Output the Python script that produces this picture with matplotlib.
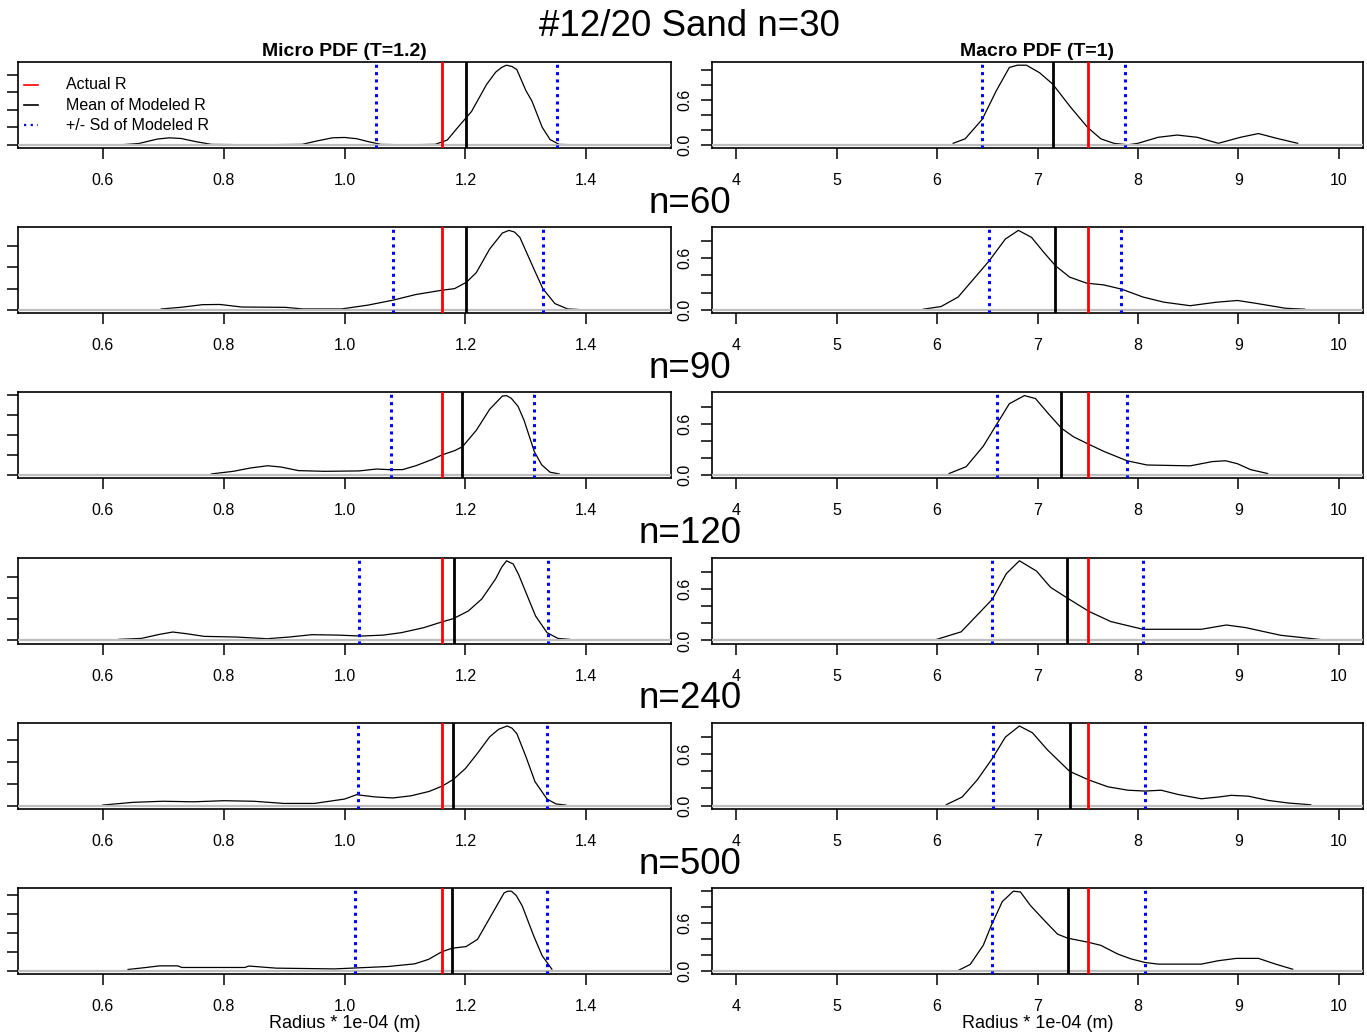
import matplotlib
matplotlib.use('Agg')
import matplotlib.pyplot as plt

plt.rcParams['font.family'] = ['Liberation Sans', 'DejaVu Sans']

# ---------------- data ----------------
sample_sizes = [30, 60, 90, 120, 240, 500]
actual_micro = 1.162
actual_macro = 7.50

micro_mean = [1.2015, 1.2017, 1.195, 1.181, 1.179, 1.178]
micro_sd_lo = [1.052, 1.0795, 1.0766, 1.0237, 1.0216, 1.018]
micro_sd_hi = [1.351, 1.3275, 1.314, 1.336, 1.335, 1.335]
macro_mean = [7.157, 7.176, 7.236, 7.293, 7.32, 7.304]
macro_sd_lo = [6.45, 6.52, 6.60, 6.547, 6.557, 6.543]
macro_sd_hi = [7.874, 7.836, 7.888, 8.05, 8.07, 8.074]

micro_x_30 = [0.63, 0.66, 0.69, 0.71, 0.73, 0.755, 0.78, 0.85, 0.93, 0.955, 0.98, 1.00, 1.02, 1.04, 1.06, 1.10,
              1.15, 1.17, 1.19, 1.21, 1.235, 1.25, 1.26, 1.268, 1.277, 1.285, 1.30, 1.31, 1.327, 1.34, 1.355, 1.38]
micro_d_30 = [0.0, 0.15, 0.65, 0.8, 0.72, 0.35, 0.05, 0.0, 0.05, 0.45, 0.8, 0.84, 0.7, 0.35, 0.05, 0.0,
              0.05, 0.55, 2.2, 3.8, 6.9, 8.3, 8.85, 9.1, 8.95, 8.6, 6.2, 5.0, 2.0, 0.6, 0.05, 0.0]
macro_x_30 = [6.16, 6.28, 6.45, 6.59, 6.72, 6.80, 6.89, 7.02, 7.15, 7.33, 7.50, 7.63, 7.76, 7.9, 8.0, 8.2,
              8.39, 8.59, 8.80, 9.02, 9.2, 9.37, 9.59]
macro_d_30 = [0.02, 0.08, 0.34, 0.72, 1.03, 1.06, 1.06, 0.96, 0.81, 0.50, 0.23, 0.08, 0.02, 0.0, 0.02, 0.10,
              0.13, 0.10, 0.02, 0.10, 0.15, 0.09, 0.02]

micro_x_60 = [0.697, 0.729, 0.765, 0.794, 0.83, 0.902, 0.931, 0.995, 1.039, 1.08, 1.118, 1.161, 1.182, 1.2017,
              1.218, 1.24, 1.261, 1.272, 1.281, 1.29, 1.312, 1.328, 1.348, 1.369, 1.387]
micro_d_60 = [0.1, 0.25, 0.5, 0.52, 0.28, 0.25, 0.1, 0.1, 0.46, 0.92, 1.45, 1.85, 2.0, 2.6,
              3.5, 5.7, 7.2, 7.45, 7.3, 6.8, 4.0, 2.0, 0.6, 0.1, 0.05]
macro_x_60 = [5.865, 6.04, 6.21, 6.38, 6.52, 6.68, 6.81, 6.94, 7.06, 7.18, 7.32, 7.49, 7.66, 7.84, 8.05, 8.26,
              8.52, 8.78, 8.99, 9.16, 9.47, 9.66]
macro_d_60 = [0.01, 0.04, 0.15, 0.38, 0.57, 0.82, 0.92, 0.84, 0.67, 0.51, 0.38, 0.31, 0.29, 0.24, 0.15, 0.09,
              0.05, 0.09, 0.11, 0.08, 0.02, 0.01]

micro_x_90 = [0.78, 0.816, 0.844, 0.873, 0.895, 0.924, 0.967, 1.024, 1.053, 1.074, 1.096, 1.118, 1.146, 1.161,
              1.182, 1.195, 1.218, 1.24, 1.261, 1.268, 1.276, 1.287, 1.297, 1.314, 1.326, 1.34, 1.355]
micro_d_90 = [0.13, 0.39, 0.72, 0.95, 0.82, 0.46, 0.39, 0.43, 0.62, 0.56, 0.56, 0.95, 1.6, 2.03,
              2.46, 2.85, 4.5, 6.6, 7.93, 7.98, 7.7, 6.9, 5.5, 2.36, 1.05, 0.3, 0.13]
macro_x_90 = [6.12, 6.29, 6.46, 6.60, 6.72, 6.87, 6.98, 7.11, 7.24, 7.36, 7.49, 7.66, 7.89, 8.09, 8.52, 8.74,
              8.87, 8.99, 9.12, 9.29]
macro_d_90 = [0.02, 0.10, 0.34, 0.61, 0.84, 0.935, 0.90, 0.72, 0.55, 0.45, 0.375, 0.28, 0.17, 0.12, 0.11, 0.16,
              0.17, 0.135, 0.066, 0.02]

micro_x_120 = [0.627, 0.664, 0.694, 0.716, 0.739, 0.768, 0.82, 0.872, 0.909, 0.946, 0.99, 1.027, 1.064, 1.094,
               1.131, 1.161, 1.18, 1.205, 1.227, 1.25, 1.26, 1.268, 1.279, 1.288, 1.298, 1.316, 1.335, 1.353, 1.372]
micro_d_120 = [0.1, 0.19, 0.57, 0.79, 0.63, 0.38, 0.32, 0.16, 0.32, 0.54, 0.5, 0.41, 0.5, 0.73,
               1.2, 1.74, 2.05, 2.78, 3.9, 5.8, 6.9, 7.5, 7.2, 6.2, 4.8, 2.3, 0.73, 0.19, 0.1]
macro_x_120 = [5.99, 6.24, 6.55, 6.69, 6.82, 6.99, 7.13, 7.29, 7.51, 7.73, 8.05, 8.63, 8.88, 9.07, 9.42, 9.82]
macro_d_120 = [0.01, 0.1, 0.48, 0.78, 0.93, 0.81, 0.62, 0.5, 0.34, 0.22, 0.13, 0.13, 0.18, 0.15, 0.06, 0.01]

micro_x_240 = [0.60, 0.65, 0.70, 0.75, 0.80, 0.85, 0.90, 0.95, 1.00, 1.02, 1.05, 1.08, 1.11, 1.14, 1.162, 1.18,
               1.20, 1.22, 1.24, 1.255, 1.269, 1.277, 1.285, 1.30, 1.315, 1.335, 1.35, 1.366]
micro_d_240 = [0.05, 0.3, 0.4, 0.35, 0.45, 0.4, 0.2, 0.2, 0.6, 1.0, 0.8, 0.7, 0.9, 1.3, 1.8, 2.4,
               3.4, 4.8, 6.3, 7.0, 7.3, 7.1, 6.6, 4.5, 2.2, 0.6, 0.15, 0.05]
macro_x_240 = [6.09, 6.25, 6.4, 6.55, 6.68, 6.82, 6.95, 7.1, 7.32, 7.51, 7.7, 7.9, 8.07, 8.23, 8.4, 8.63,
               8.8, 8.93, 9.1, 9.3, 9.5, 9.72]
macro_d_240 = [0.01, 0.1, 0.3, 0.55, 0.8, 0.93, 0.85, 0.65, 0.4, 0.3, 0.22, 0.18, 0.17, 0.18, 0.13, 0.08,
               0.1, 0.12, 0.11, 0.06, 0.03, 0.01]

micro_x_500 = [0.642, 0.672, 0.694, 0.724, 0.731, 0.835, 0.842, 0.887, 0.983, 1.072, 1.116, 1.139, 1.161, 1.178,
               1.201, 1.22, 1.242, 1.264, 1.27, 1.276, 1.284, 1.294, 1.313, 1.327, 1.343]
micro_d_500 = [0.14, 0.35, 0.52, 0.52, 0.35, 0.35, 0.5, 0.28, 0.2, 0.45, 0.73, 1.2, 2.0, 2.37,
               2.54, 3.3, 5.74, 8.17, 8.35, 8.35, 7.9, 6.8, 3.65, 1.57, 0.17]
macro_x_500 = [6.22, 6.33, 6.46, 6.54, 6.65, 6.76, 6.83, 6.93, 7.07, 7.2, 7.3, 7.5, 7.63, 7.8, 7.93, 8.07,
               8.2, 8.63, 8.8, 8.98, 9.2, 9.37, 9.54]
macro_d_500 = [0.01, 0.08, 0.32, 0.57, 0.87, 1.0, 0.99, 0.82, 0.63, 0.46, 0.41, 0.36, 0.32, 0.21, 0.15, 0.105,
               0.084, 0.084, 0.127, 0.156, 0.156, 0.084, 0.02]

micro_curves = [(micro_x_30, micro_d_30), (micro_x_60, micro_d_60), (micro_x_90, micro_d_90),
                (micro_x_120, micro_d_120), (micro_x_240, micro_d_240), (micro_x_500, micro_d_500)]
macro_curves = [(macro_x_30, macro_d_30), (macro_x_60, macro_d_60), (macro_x_90, macro_d_90),
                (macro_x_120, macro_d_120), (macro_x_240, macro_d_240), (macro_x_500, macro_d_500)]

micro_xticks = [0.6, 0.8, 1.0, 1.2, 1.4]
macro_xticks = [4, 5, 6, 7, 8, 9, 10]
micro_xlim = (0.5, 1.5)
macro_xlim = (4, 10)
micro_ystep = 2.0
macro_ystep = 0.2
macro_ylabels = {0.0: '0.0', 0.6: '0.6'}

legend_labels = ['Actual R', 'Mean of Modeled R', '+/- Sd of Modeled R']

# ---------------- figure ----------------
W, H = 1367, 1036
fig = plt.figure(figsize=(W / 100, H / 100), dpi=100)

def rect(x0, x1, ytop, ybot):
    return [x0 / W, 1 - ybot / H, (x1 - x0) / W, (ybot - ytop) / H]

TICK_FS = 11.5
DOT = (0, (1.0, 1.4))


def r_lim(lo, hi):
    pad = 0.04 * (hi - lo)
    return lo - pad, hi + pad


def draw_panel(ax, xs, ds, xlim, xticks, ystep, mean, lo, hi, actual, ylabels):
    ax.plot(xs, ds, color='black', lw=0.9, zorder=2, solid_joinstyle='round')
    ax.axhline(0, color='#bebebe', lw=1.6, zorder=3)
    ax.axvline(lo, color='#0000ff', lw=2.2, ls=DOT, zorder=4)
    ax.axvline(hi, color='#0000ff', lw=2.2, ls=DOT, zorder=4)
    ax.axvline(mean, color='black', lw=2.0, zorder=4)
    ax.axvline(actual, color='#ff0000', lw=2.0, zorder=4)
    ax.set_xlim(*r_lim(*xlim))
    pk = max(ds)
    ax.set_ylim(*r_lim(0, pk))
    ax.set_xticks(xticks)
    ax.set_xticklabels([('%g' % t) if isinstance(t, int) else ('%.1f' % t) for t in xticks])
    n = int(pk * 1.04 / ystep + 1e-9)
    yt = [round(i * ystep, 6) for i in range(n + 1)]
    ax.set_yticks(yt)
    if ylabels is None:
        ax.set_yticklabels([''] * len(yt))
    else:
        ax.set_yticklabels([ylabels.get(round(t, 6), '') for t in yt], rotation=90, va='center')
    ax.tick_params(axis='both', direction='out', length=8, width=1.1, labelsize=TICK_FS, pad=10)
    ax.tick_params(axis='y', pad=6)
    for s in ax.spines.values():
        s.set_linewidth(1.2)


row_top0 = 62
row_step = 165.2
ax_h = 86

for i, n in enumerate(sample_sizes):
    top = row_top0 + i * row_step
    axl = fig.add_axes(rect(18, 671, top, top + ax_h))
    axr = fig.add_axes(rect(712, 1363, top, top + ax_h))
    mx, md = micro_curves[i]
    draw_panel(axl, mx, md, micro_xlim, micro_xticks, micro_ystep,
               micro_mean[i], micro_sd_lo[i], micro_sd_hi[i], actual_micro, None)
    Mx, Md = macro_curves[i]
    draw_panel(axr, Mx, Md, macro_xlim, macro_xticks, macro_ystep,
               macro_mean[i], macro_sd_lo[i], macro_sd_hi[i], actual_macro, macro_ylabels)

    if i == 0:
        fig.text(689 / W, 1 - 26 / H, '#12/20 Sand n=%d' % n, ha='center', va='center', fontsize=26.5)
        axl.set_title('Micro PDF (T=1.2)', fontsize=14, fontweight='bold', pad=4)
        axr.set_title('Macro PDF (T=1)', fontsize=14, fontweight='bold', pad=4)
        # legend (manual, no frame)
        styles = [dict(color='#ff0000', lw=1.2), dict(color='black', lw=1.2),
                  dict(color='#0000ff', lw=1.6, ls=(0, (1.0, 2.0)))]
        ys = [0.733, 0.5, 0.267]
        for lab, st, yy in zip(legend_labels, styles, ys):
            axl.plot([0.009, 0.031], [yy, yy], transform=axl.transAxes, clip_on=False, zorder=6, **st)
            axl.text(0.074, yy, lab, transform=axl.transAxes, ha='left', va='center', fontsize=11.5, zorder=6)
    else:
        fig.text(690 / W, 1 - (top - 24) / H, 'n=%d' % n, ha='center', va='center', fontsize=26.5)

    if i == len(sample_sizes) - 1:
        axl.set_xlabel('Radius * 1e-04 (m)', fontsize=13, labelpad=1)
        axr.set_xlabel('Radius * 1e-04 (m)', fontsize=13, labelpad=1)

fig.savefig('out.png', dpi=100)
